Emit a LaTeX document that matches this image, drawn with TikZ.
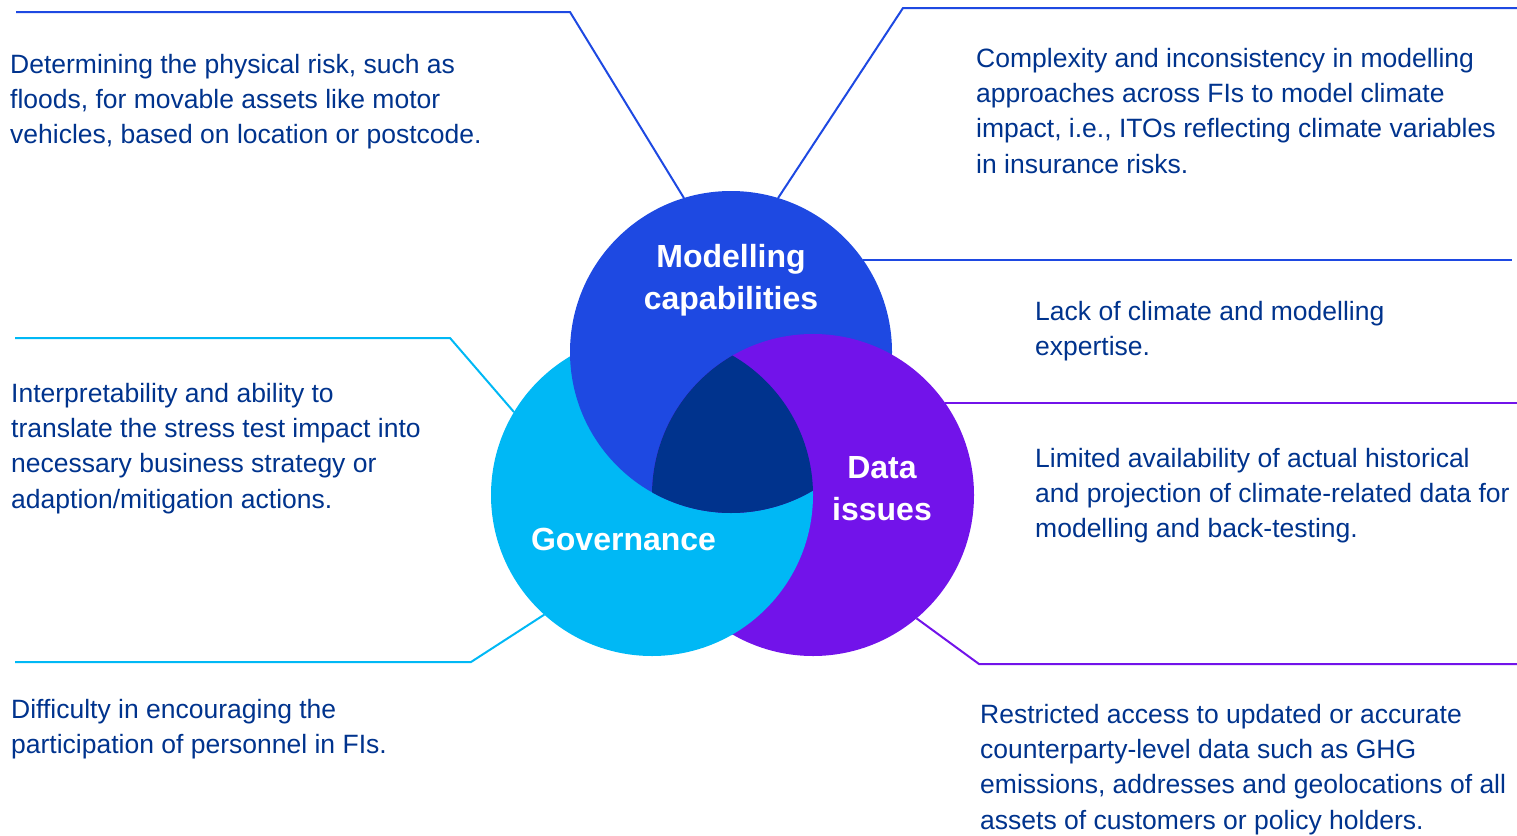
\documentclass[tikz,border=0pt]{standalone}
\usepackage{fontspec}
\setmainfont{Liberation Sans}
\definecolor{cobalt}{HTML}{1E49E2}
\definecolor{pacific}{HTML}{00B8F5}
\definecolor{grape}{HTML}{7213EA}
\definecolor{navy}{HTML}{00338D}

\begin{document}
\begin{tikzpicture}[x=1pt, y=-1pt,
    venn/.style={circle, minimum size=322pt, inner sep=0pt, outer sep=0pt},
    head/.style={text=white, align=center, anchor=north, inner sep=0pt, font=\fontsize{32}{42}\selectfont\bfseries},
    note/.style={text=navy, align=left, anchor=north west, inner sep=0pt, font=\fontsize{26.5}{35.3}\selectfont},
    lead/.style={line width=2pt}]
    \useasboundingbox (0,0) rectangle (1517,835);

    % the three sets, data on top
    \node[venn, fill=pacific] (gov) at (652,495) {};
    \node[venn, fill=cobalt] (model) at (731,352) {};
    \node[venn, fill=grape] (data) at (813,495) {};

    % governance over data, outside the modelling circle
    \begin{scope}[even odd rule]
        \clip (gov.center) circle (161pt);
        \clip (0,0) rectangle (1517,835) (model.center) circle (161pt);
        \fill[pacific] (data.center) circle (162.5pt);
    \end{scope}
    % centre of the diagram
    \begin{scope}
        \clip (model.center) circle (161pt);
        \clip (gov.center) circle (161pt);
        \fill[navy] (data.center) circle (161pt);
    \end{scope}

    \node[head] (modelT) at (731,237.6) {\strut Modelling\\capabilities};
    \node[head] (dataT) at (882,448.6) {\strut Data\\issues};
    \node[head] (govT) at (623.5,520.6) {\strut Governance};

    % challenges
    \node[note] (physRisk) at (10,48.3) {\strut Determining the physical risk, such as\\floods, for movable assets like motor\\vehicles, based on location or postcode.};
    \node[note] (approach) at (976,42.3) {\strut Complexity and inconsistency in modelling\\approaches across FIs to model climate\\impact, i.e., ITOs reflecting climate variables\\in insurance risks.};
    \node[note] (expert) at (1035,295.3) {\strut Lack of climate and modelling\\expertise.};
    \node[note] (history) at (1035,442.3) {\strut Limited availability of actual historical\\and projection of climate-related data for\\modelling and back-testing.};
    \node[note] (access) at (980,698.3) {\strut Restricted access to updated or accurate\\counterparty-level data such as GHG\\emissions, addresses and geolocations of all\\assets of customers or policy holders.};
    \node[note] (interp) at (11,377.3) {\strut Interpretability and ability to\\translate the stress test impact into\\necessary business strategy or\\adaption/mitigation actions.};
    \node[note] (staff) at (11,693.3) {\strut Difficulty in encouraging the\\participation of personnel in FIs.};

    % leader lines
    \coordinate (physEnd) at (16,12);
    \coordinate (approachEnd) at (1517,8);
    \coordinate (expertEnd) at (1512,257.5);
    \coordinate (historyEnd) at (1517,402);
    \coordinate (accessEnd) at (1517,664);
    \coordinate (interpEnd) at (15,338);
    \coordinate (staffEnd) at (15,662);

    \draw[lead, cobalt] (model.107.2) -- (570,12) -- (physEnd);
    \draw[lead, cobalt] (model.73.1) -- (903,8) -- (approachEnd);
    \draw[lead, cobalt] (model.35.9) -- (expertEnd |- model.35.9);
    \draw[lead, grape] (data.35.2) -- (historyEnd |- data.35.2);
    \draw[lead, grape] (data.-50.2) -- (979,664) -- (accessEnd);
    \draw[lead, pacific] (gov.149.3) -- (450,338) -- (interpEnd);
    \draw[lead, pacific] (gov.228.2) -- (471,662) -- (staffEnd);
\end{tikzpicture}
\end{document}
